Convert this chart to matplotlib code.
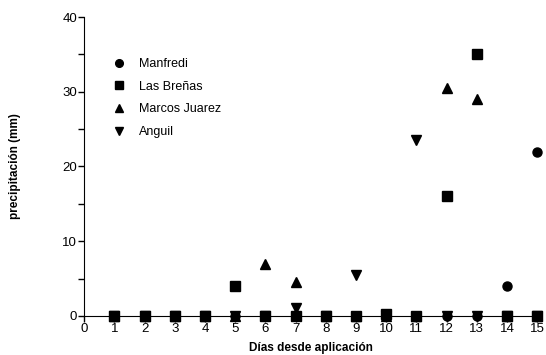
import matplotlib.pyplot as plt
from matplotlib.ticker import MultipleLocator

plt.rcParams['font.family'] = ['Liberation Sans', 'DejaVu Sans']

dias = list(range(1, 16))
manfredi = [0, 0, 0, 0, 0, 0, 0, 0, 0, 0, 0, 0, 0, 4, 22]
las_brenas = [0, 0, 0, 0, 4, 0, 0, 0, 0, 0.3, 0, 16, 35, 0, 0]
marcos_juarez = [0, 0, 0, 0, 0, 7, 4.5, 0, 0, 0, 0, 30.5, 29, 0, 0]
anguil = [0, 0, 0, 0, 0, 0, 1.1, 0, 5.5, 0, 23.5, 0, 0, 0, 0]

series = [
    ("Manfredi", manfredi, "o"),
    ("Anguil", anguil, "v"),
    ("Marcos Juarez", marcos_juarez, "^"),
    ("Las Breñas", las_brenas, "s"),
]

fig = plt.figure(figsize=(5.46, 3.55), dpi=100)
ax = fig.add_axes([0.154, 0.110, 0.830, 0.842])

handles = {}
for name, vals, m in series:
    h = ax.plot(dias, vals, linestyle='none', marker=m, color='black',
                markersize=6.5, clip_on=False, zorder=3)[0]
    handles[name] = h

order = ["Manfredi", "Las Breñas", "Marcos Juarez", "Anguil"]
ax.legend([handles[n] for n in order], order, loc='upper left',
          bbox_to_anchor=(0.025, 0.90), frameon=False, fontsize=9,
          handletextpad=0.6, labelspacing=0.85, markerscale=0.85)

ax.set_xlim(0, 15)
ax.set_ylim(0, 40)
ax.xaxis.set_major_locator(MultipleLocator(1))
ax.yaxis.set_major_locator(MultipleLocator(10))
ax.yaxis.set_minor_locator(MultipleLocator(5))
ax.spines['top'].set_visible(False)
ax.spines['right'].set_visible(False)
ax.tick_params(axis='both', labelsize=9.5, length=4, width=1, pad=1)
ax.tick_params(axis='y', which='minor', length=4, width=1)

ax.set_xlabel("Días desde aplicación", fontsize=8.5, fontweight='bold', labelpad=5)
ax.set_ylabel("precipitación (mm)", fontsize=8.5, fontweight='bold', labelpad=30)

fig.savefig("out.png", dpi=100)
